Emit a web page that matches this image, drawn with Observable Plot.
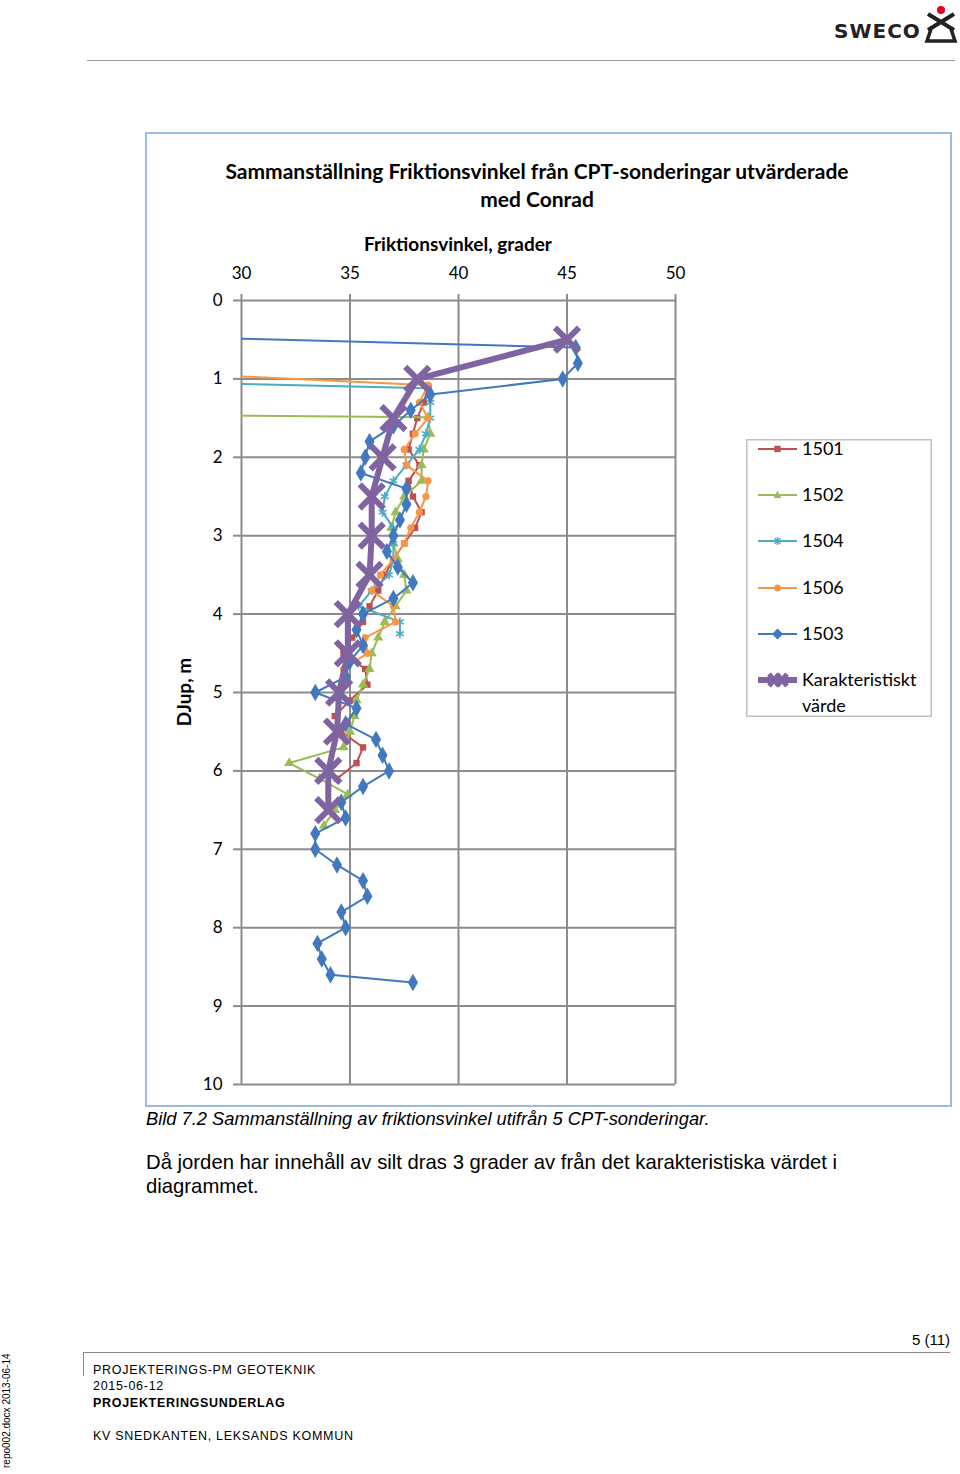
<!DOCTYPE html>
<html><head><meta charset="utf-8">
<script src="https://cdn.jsdelivr.net/npm/d3@7"></script>
<script src="https://cdn.jsdelivr.net/npm/@observablehq/plot@0.6"></script>
<style>
body{margin:0;width:960px;height:1474px;position:relative;background:#fff;font-family:"Liberation Sans",Arial,sans-serif;overflow:hidden;color:#000}
.abs{position:absolute;white-space:nowrap}
.cal{font-family:Lato,"Open Sans",sans-serif}
</style></head>
<body>
<script>
// ---- data ----
const seriesNames = ["1501","1502","1504","1506","1503","Karakteristiskt värde"];
const depth1501 = [1.1,1.3,1.5,1.7,1.9,2.1,2.3,2.5,2.7,2.9,3.1,3.3,3.5,3.7,3.9,4.1,4.3,4.5,4.7,4.9,5.1,5.3,5.5,5.7,5.9,6.1];
const phi1501   = [38.6,38.4,38.1,37.9,37.7,38.2,37.7,37.9,38.3,38.0,37.5,37.0,36.6,36.3,35.9,35.6,35.1,34.7,35.7,35.8,35.0,34.3,34.6,35.6,35.3,34.4];
const depth1502 = [1.4,1.49,1.7,1.9,2.1,2.3,2.5,2.7,2.9,3.1,3.3,3.5,3.7,3.9,4.1,4.3,4.5,4.7,4.9,5.1,5.3,5.5,5.7,5.9,6.1,6.3,6.5,6.7];
const phi1502   = [0,38.6,38.7,38.4,38.3,38.3,37.5,37.1,36.9,37.0,37.2,37.5,37.6,37.1,36.6,36.3,36.0,35.9,35.6,35.3,35.2,35.0,34.7,32.2,33.6,34.9,34.3,33.8];
const depth1504 = [1.0,1.12,1.3,1.5,1.7,1.9,2.1,2.3,2.5,2.7,2.9,3.1,3.3,3.5,3.7,3.9,4.1,4.25];
const phi1504   = [20,38.6,38.7,38.7,38.5,38.2,37.6,37.0,36.6,36.5,37.0,37.0,37.0,36.8,36.0,35.4,37.3,37.3];
const depth1506 = [0.8,1.08,1.3,1.5,1.7,1.9,2.1,2.3,2.5,2.7,2.9,3.1,3.3,3.5,3.7,3.9,4.1,4.3,4.5,4.7,4.9];
const phi1506   = [17,38.6,38.2,38.6,38.0,37.5,37.6,38.6,38.5,38.2,37.8,37.5,37.0,36.4,36.0,37.0,37.1,35.7,35.8,34.7,34.8];
const depth1503 = [0.4,0.6,0.8,1.0,1.2,1.4,1.6,1.8,2.0,2.2,2.4,2.6,2.8,3.0,3.2,3.4,3.6,3.8,4.0,4.2,4.4,4.6,4.8,5.0,5.2,5.4,5.6,5.8,6.0,6.2,6.4,6.6,6.8,7.0,7.2,7.4,7.6,7.8,8.0,8.2,8.4,8.6,8.7];
const phi1503   = [18,45.4,45.5,44.8,38.7,37.8,37.0,35.9,35.7,35.5,37.6,37.6,37.3,37.0,36.7,37.2,37.9,37.0,35.6,35.3,35.6,35.0,34.8,33.4,35.3,34.8,36.2,36.5,36.8,35.6,34.6,34.8,33.4,33.4,34.4,35.6,35.8,34.6,34.8,33.5,33.7,34.1,37.9];
const depthKar  = [0.5,1.0,1.5,2.0,2.5,3.0,3.5,4.0,4.5,5.0,5.5,6.0,6.5];
const phiKar    = [45.0,38.1,37.0,36.5,36.0,36.0,35.9,34.9,34.9,34.5,34.4,34.0,34.0];
const xTicks = [30,35,40,45,50];
const yTicks = [0,1,2,3,4,5,6,7,8,9,10];

const zip = (d,p) => d.map((v,i)=>({depth:v, phi:p[i]}));
const series = [
  {name:"1501", data:zip(depth1501,phi1501), color:"#c0504d", symbol:"square", r:3.6, fill:true},
  {name:"1502", data:zip(depth1502,phi1502), color:"#9bbb59", symbol:"triangle", r:3.8, fill:true},
  {name:"1504", data:zip(depth1504,phi1504), color:"#4bacc6", symbol:"asterisk", r:4.2, fill:false},
  {name:"1506", data:zip(depth1506,phi1506), color:"#f79646", symbol:"circle", r:3.6, fill:true},
  {name:"1503", data:zip(depth1503,phi1503), color:"#4178be", symbol:"diamond", r:5.3, fill:true},
];
const kar = zip(depthKar, phiKar);
const karColor = "#8064a2";

const marks = [
  Plot.gridX(xTicks, {stroke:"#8c8c8c", strokeOpacity:1, strokeWidth:2}),
  Plot.gridY(yTicks, {stroke:"#8c8c8c", strokeOpacity:1, strokeWidth:2}),
  Plot.axisX(xTicks, {anchor:"top", tickSize:7, tickPadding:15, stroke:"#8c8c8c", strokeWidth:2, fill:"#000", fontSize:17, label:null, tickFormat:d=>String(d)}),
  Plot.axisY(yTicks, {anchor:"left", tickSize:8, tickPadding:11, stroke:"#8c8c8c", strokeWidth:2, fill:"#000", fontSize:17, label:null, tickFormat:d=>String(d)}),
];
for (const s of series) {
  marks.push(Plot.line(s.data, {x:"phi", y:"depth", stroke:s.color, strokeWidth:2, clip:true}));
  marks.push(Plot.dot(s.data, {x:"phi", y:"depth", symbol:s.symbol, r:s.r,
    fill: s.fill ? s.color : "none", stroke: s.fill ? "none" : s.color, strokeWidth:1.6, clip:true}));
}
marks.push(Plot.line(kar, {x:"phi", y:"depth", stroke:karColor, strokeWidth:6, clip:true}));
marks.push(Plot.dot(kar, {x:"phi", y:"depth", symbol:"times", r:11, stroke:karColor, strokeWidth:6, clip:true}));

const chart = Plot.plot({
  width:803, height:971,
  marginLeft:94, marginRight:275, marginTop:166, marginBottom:21,
  x:{domain:[30,50]},
  y:{domain:[0,10], reverse:true},
  style:{fontFamily:"Lato, 'Open Sans', sans-serif", fontSize:"17px", color:"#000", background:"transparent", overflow:"visible"},
  marks
});
chart.style.position = "absolute";
chart.style.left = "147px";
chart.style.top = "134px";

const body = document.body;
function add(html){ body.insertAdjacentHTML("beforeend", html); }

// header
add(`<div class="abs" style="left:834px;top:19px;font-family:'DejaVu Sans',sans-serif;font-weight:bold;font-size:20px;letter-spacing:1px;color:#222">SWECO</div>`);
add(`<svg class="abs" style="left:922px;top:3px" width="38" height="42">
<circle cx="19" cy="7" r="4" fill="#e2001a"/>
<path d="M6 11 L32 27 M32 11 L6 27" stroke="#222" stroke-width="4" fill="none"/>
<path d="M9 26 L5 38 L33 38 L29 26" stroke="#222" stroke-width="3.5" fill="none"/>
</svg>`);
add(`<div class="abs" style="left:87px;top:60px;width:868px;height:1px;background:#9a9a9a"></div>`);

// chart border
add(`<div class="abs" style="left:145px;top:132px;width:803px;height:971px;border:2px solid #9dbbe0"></div>`);
body.appendChild(chart);

// titles
add(`<div class="abs cal" style="left:187px;top:157px;width:700px;text-align:center;font-weight:bold;font-size:21px;line-height:28px;white-space:normal">Sammanställning Friktionsvinkel från CPT-sonderingar utvärderade<br>med Conrad</div>`);
add(`<div class="abs cal" style="left:333px;top:232px;width:250px;text-align:center;font-weight:bold;font-size:19px;line-height:24px">Friktionsvinkel, grader</div>`);
add(`<div class="abs cal" style="left:134px;top:680px;width:100px;text-align:center;font-weight:bold;font-size:19px;line-height:24px;transform:rotate(-90deg)">DJup, m</div>`);

// legend
const legY = [449,495,541,588,634];
let leg = `<svg class="abs" style="left:746px;top:439px;overflow:visible" width="186" height="278">
<rect x="0.75" y="0.75" width="184.5" height="276.5" fill="#fff" stroke="#c0c0c0" stroke-width="1.5"/>`;
const sym = {
  square: (c)=>`<rect x="-3.2" y="-3.2" width="6.4" height="6.4" fill="${c}"/>`,
  triangle: (c)=>`<path d="M0,-4.2 L4,3 L-4,3Z" fill="${c}"/>`,
  asterisk: (c)=>`<path d="M-3,-3 L3,3 M3,-3 L-3,3 M0,-4 L0,4" stroke="${c}" stroke-width="1.5"/>`,
  circle: (c)=>`<circle r="3.4" fill="${c}"/>`,
  diamond: (c)=>`<path d="M0,-5.5 L5.5,0 L0,5.5 L-5.5,0Z" fill="${c}"/>`
};
series.forEach((s,i)=>{
  const y = legY[i]-439;
  leg += `<line x1="12" x2="51" y1="${y}" y2="${y}" stroke="${s.color}" stroke-width="2"/>
  <g transform="translate(31.5,${y})">${sym[s.symbol](s.color)}</g>
  <text x="56" y="${y}" dy="0.36em" font-family="Lato, 'Open Sans', sans-serif" font-size="18">${s.name}</text>`;
});
{
  const y = 680-439;
  leg += `<line x1="12" x2="51" y1="${y}" y2="${y}" stroke="${karColor}" stroke-width="6"/>
  <path d="M23,${y-6} L33,${y+6} M33,${y-6} L23,${y+6}" stroke="${karColor}" stroke-width="5"/>
  <path d="M31,${y-6} L41,${y+6} M41,${y-6} L31,${y+6}" stroke="${karColor}" stroke-width="5"/>
  <text x="56" y="${y}" dy="0.36em" font-family="Lato, 'Open Sans', sans-serif" font-size="18">Karakteristiskt</text>
  <text x="56" y="${706-439}" dy="0.36em" font-family="Lato, 'Open Sans', sans-serif" font-size="18">värde</text>`;
}
leg += `</svg>`;
add(leg);

// caption + paragraph
add(`<div class="abs" style="left:146px;top:1108px;font-style:italic;font-size:18.3px;line-height:22px">Bild 7.2 Sammanställning av friktionsvinkel utifrån 5 CPT-sonderingar.</div>`);
add(`<div class="abs" style="left:146px;top:1150px;font-size:20.3px;line-height:24px;white-space:normal;width:760px">Då jorden har innehåll av silt dras 3 grader av från det karakteristiska värdet i diagrammet.</div>`);

// footer
add(`<div class="abs" style="right:10px;top:1331px;font-size:15px;line-height:18px">5 (11)</div>`);
add(`<div class="abs" style="left:83px;top:1352px;width:867px;height:1px;background:#8a8a8a"></div>`);
add(`<div class="abs" style="left:83px;top:1352px;width:1px;height:24px;background:#8a8a8a"></div>`);
const fst = "font-size:12.5px;letter-spacing:0.7px;line-height:16px";
add(`<div class="abs" style="left:93px;top:1362px;${fst}">PROJEKTERINGS-PM GEOTEKNIK</div>`);
add(`<div class="abs" style="left:93px;top:1378px;${fst}">2015-06-12</div>`);
add(`<div class="abs" style="left:93px;top:1395px;${fst};font-weight:bold">PROJEKTERINGSUNDERLAG</div>`);
add(`<div class="abs" style="left:93px;top:1428px;${fst}">KV SNEDKANTEN, LEKSANDS KOMMUN</div>`);
add(`<div class="abs" style="left:-50px;top:1405px;width:114px;text-align:center;font-size:10px;line-height:12px;transform:rotate(-90deg)">repo002.docx 2013-06-14</div>`);
</script>
</body></html>
